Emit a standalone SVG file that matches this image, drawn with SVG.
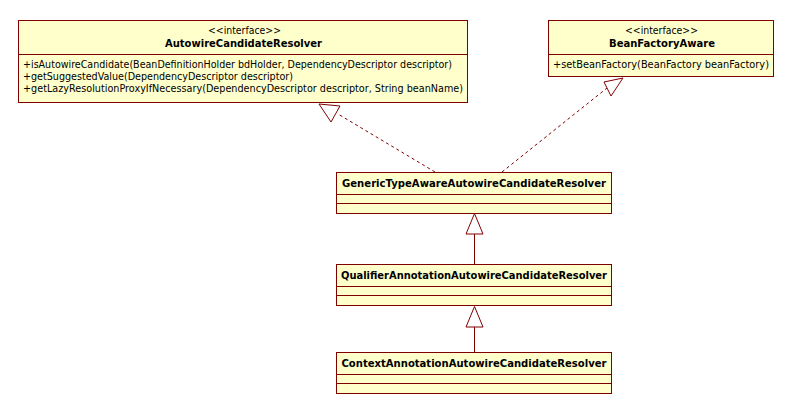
<svg xmlns="http://www.w3.org/2000/svg" width="794" height="414" viewBox="0 0 794 414">
<style>
.box{fill:#FFFFCC;stroke:#800000;stroke-width:1}
.sep{stroke:#800000;stroke-width:1}
.t{font-family:"DejaVu Sans","Liberation Sans",sans-serif;font-size:11px;fill:#000}
.b{font-family:"DejaVu Sans","Liberation Sans",sans-serif;font-size:11px;font-weight:bold;fill:#000}
.dash{fill:none;stroke:#800000;stroke-width:1;stroke-dasharray:3,3}
.line{fill:none;stroke:#800000;stroke-width:1}
.tri{fill:#fff;stroke:#800000;stroke-width:1}
</style>
<rect width="794" height="414" fill="#fff"/>
<g id="AutowireCandidateResolver">
<rect class="box" x="18.5" y="20.5" width="449" height="82"/>
<line class="sep" x1="18.5" y1="54.5" x2="467.5" y2="54.5"/>
<text class="t" x="244.5" y="34" text-anchor="middle" textLength="73" lengthAdjust="spacingAndGlyphs">&lt;&lt;interface&gt;&gt;</text>
<text class="b" x="243.5" y="47" text-anchor="middle" textLength="157" lengthAdjust="spacingAndGlyphs">AutowireCandidateResolver</text>
<text class="t" x="23" y="68" textLength="429" lengthAdjust="spacingAndGlyphs">+isAutowireCandidate(BeanDefinitionHolder bdHolder, DependencyDescriptor descriptor)</text>
<text class="t" x="23" y="80" textLength="270" lengthAdjust="spacingAndGlyphs">+getSuggestedValue(DependencyDescriptor descriptor)</text>
<text class="t" x="23" y="92" textLength="440" lengthAdjust="spacingAndGlyphs">+getLazyResolutionProxyIfNecessary(DependencyDescriptor descriptor, String beanName)</text>
</g>
<g id="BeanFactoryAware">
<rect class="box" x="548.5" y="20.5" width="225" height="56"/>
<line class="sep" x1="548.5" y1="54.5" x2="773.5" y2="54.5"/>
<text class="t" x="661.5" y="34" text-anchor="middle" textLength="73" lengthAdjust="spacingAndGlyphs">&lt;&lt;interface&gt;&gt;</text>
<text class="b" x="662" y="47" text-anchor="middle" textLength="106" lengthAdjust="spacingAndGlyphs">BeanFactoryAware</text>
<text class="t" x="553" y="68" textLength="216" lengthAdjust="spacingAndGlyphs">+setBeanFactory(BeanFactory beanFactory)</text>
</g>
<g id="GenericTypeAwareAutowireCandidateResolver">
<rect class="box" x="336.5" y="172.5" width="275" height="41"/>
<line class="sep" x1="336.5" y1="194.5" x2="611.5" y2="194.5"/>
<line class="sep" x1="336.5" y1="203.5" x2="611.5" y2="203.5"/>
<text class="b" x="474" y="187" text-anchor="middle" textLength="264" lengthAdjust="spacingAndGlyphs">GenericTypeAwareAutowireCandidateResolver</text>
</g>
<g id="QualifierAnnotationAutowireCandidateResolver">
<rect class="box" x="336.5" y="264.5" width="275" height="41"/>
<line class="sep" x1="336.5" y1="286.5" x2="611.5" y2="286.5"/>
<line class="sep" x1="336.5" y1="295.5" x2="611.5" y2="295.5"/>
<text class="b" x="474" y="279" text-anchor="middle" textLength="266" lengthAdjust="spacingAndGlyphs">QualifierAnnotationAutowireCandidateResolver</text>
</g>
<g id="ContextAnnotationAutowireCandidateResolver">
<rect class="box" x="336.5" y="352.5" width="275" height="41"/>
<line class="sep" x1="336.5" y1="374.5" x2="611.5" y2="374.5"/>
<line class="sep" x1="336.5" y1="383.5" x2="611.5" y2="383.5"/>
<text class="b" x="474" y="367" text-anchor="middle" textLength="265" lengthAdjust="spacingAndGlyphs">ContextAnnotationAutowireCandidateResolver</text>
</g>
<g id="connectors">
<line class="dash" x1="435" y1="172" x2="338" y2="114"/>
<polygon class="tri" points="319,104 340,106 331,122"/>
<line class="dash" x1="502" y1="172" x2="607" y2="88"/>
<polygon class="tri" points="604,82 623,78 611,96"/>
<line class="line" x1="474.5" y1="234" x2="474.5" y2="264"/>
<polygon class="tri" points="474.5,213.5 466,234 483,234"/>
<line class="line" x1="474.5" y1="327" x2="474.5" y2="352"/>
<polygon class="tri" points="474.5,306.5 466,327 483,327"/>
</g>
</svg>
